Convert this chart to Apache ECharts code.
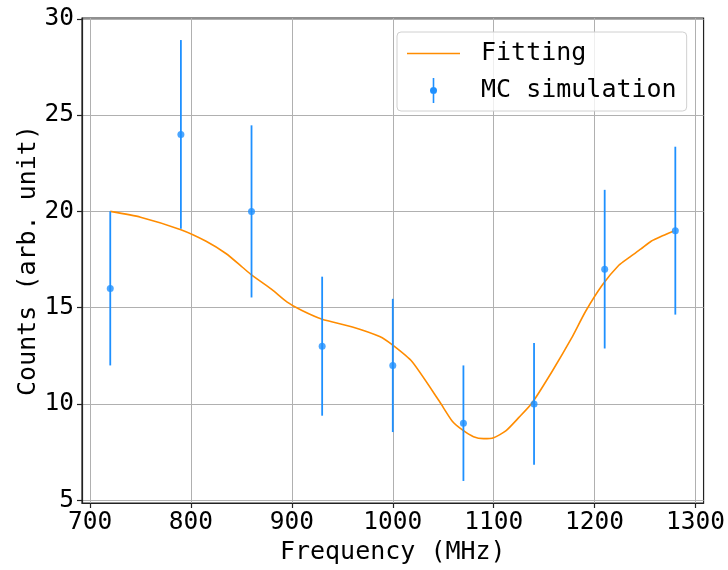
<!DOCTYPE html>
<html>
<head>
<meta charset="utf-8">
<script src="https://cdn.jsdelivr.net/npm/echarts@6/dist/echarts.min.js"></script>
<style>
  html, body { margin: 0; padding: 0; background: #fff; }
  #chart { width: 728px; height: 570px; }
</style>
</head>
<body>
<div id="chart"></div>
<script>
// MC simulation points (frequency, counts, error)
const mcFreq = [720, 790, 860, 930, 1000, 1070, 1140, 1210, 1280];
const mcCounts = [16, 24, 20, 13, 12, 9, 10, 17, 19];
const mcErr = [4.0, 4.9, 4.47, 3.61, 3.46, 3.0, 3.16, 4.12, 4.36];

// fitting curve
const fitFreq = [720, 750, 790, 815, 835, 851, 860, 880, 895, 910, 930, 960, 987, 1000, 1019, 1046, 1059, 1069, 1080, 1090, 1100, 1112, 1125, 1138, 1158, 1177, 1191, 1208, 1224, 1234, 1246, 1256, 1268, 1278];
const fitCounts = [20.0, 19.7, 19.05, 18.45, 17.8, 17.1, 16.7, 15.95, 15.3, 14.85, 14.4, 14.0, 13.5, 13.05, 12.2, 10.15, 9.1, 8.65, 8.3, 8.2, 8.25, 8.6, 9.3, 10.05, 11.7, 13.4, 14.8, 16.2, 17.2, 17.6, 18.05, 18.45, 18.75, 18.97];

const xTicks = [700, 800, 900, 1000, 1100, 1200, 1300];
const yTicks = [5, 10, 15, 20, 25, 30];

const BLUE = '#1e90ff';
const ORANGE = '#ff8c00';
const FONT = 'DejaVu Sans Mono';

const chart = echarts.init(document.getElementById('chart'));

const errData = mcFreq.map((x, i) => [x, mcCounts[i] - mcErr[i], mcCounts[i] + mcErr[i]]);
const pts = mcFreq.map((x, i) => [x, mcCounts[i]]);
const fit = fitFreq.map((x, i) => [x, fitCounts[i]]);

const axisCommon = {
  axisLine: { show: true, onZero: false, lineStyle: { color: '#222', width: 1.2 } },
  axisTick: { show: true, inside: false, length: 5, lineStyle: { color: '#222', width: 1.2 } },
  splitLine: { show: true, lineStyle: { color: '#b0b0b0', width: 1 } },
  nameTextStyle: { fontFamily: FONT, fontSize: 25, color: '#000' }
};

// legend icons: thin line (tiny corner specks keep the box size) and errorbar marker
const lineIcon = 'path://M0,11.7 L53,11.7 L53,13.3 L0,13.3 Z M0,0 L0.01,0 L0.01,0.01 Z M53,25 L52.99,25 L52.99,24.99 Z';
const errIcon = 'path://M-0.8,-12.5 L0.8,-12.5 L0.8,12.5 L-0.8,12.5 Z M0,-3.5 A3.5,3.5 0 1,1 0,3.5 A3.5,3.5 0 1,1 0,-3.5 Z';

const option = {
  animation: false,
  backgroundColor: '#fff',
  grid: { left: 82, right: 23, top: 18, bottom: 65, containLabel: false, show: true, borderColor: '#222', borderWidth: 1.2 },
  xAxis: Object.assign({}, axisCommon, {
    type: 'value',
    min: 692,
    max: 1308,
    name: 'Frequency (MHz)',
    nameLocation: 'middle',
    nameGap: 37,
    axisTick: Object.assign({}, axisCommon.axisTick, { customValues: xTicks }),
    axisLabel: { customValues: xTicks, formatter: v => String(v), fontFamily: FONT, fontSize: 24.5, color: '#000', margin: 7 },
  }),
  yAxis: Object.assign({}, axisCommon, {
    type: 'value',
    min: 4.855,
    max: 30.045,
    name: 'Counts (arb. unit)',
    nameLocation: 'middle',
    nameGap: 41,
    nameMoveOverlap: false,
    axisTick: Object.assign({}, axisCommon.axisTick, { customValues: yTicks }),
    axisLabel: { customValues: yTicks, formatter: v => String(v), fontFamily: FONT, fontSize: 24.5, color: '#000', margin: 8 },
  }),
  legend: {
    orient: 'vertical',
    left: 397,
    top: 32,
    width: 273,
    padding: [9, 10, 8, 10],
    itemWidth: 53,
    itemHeight: 25,
    itemGap: 12,
    backgroundColor: 'rgba(255,255,255,0.8)',
    borderColor: '#d0d0d0',
    borderWidth: 1,
    borderRadius: 4,
    textStyle: { fontFamily: FONT, fontSize: 25, color: '#000', padding: [0, 0, 0, 16] },
    data: [
      { name: 'Fitting', icon: lineIcon, itemStyle: { color: ORANGE } },
      { name: 'MC simulation', icon: errIcon, itemStyle: { color: BLUE } }
    ]
  },
  series: [
    {
      name: 'Fitting',
      type: 'line',
      data: fit,
      smooth: 0.2,
      symbol: 'none',
      lineStyle: { color: ORANGE, width: 1.6 },
      itemStyle: { color: ORANGE },
      z: 3
    },
    {
      name: 'MC simulation',
      type: 'custom',
      data: errData,
      itemStyle: { color: BLUE },
      renderItem: function (params, api) {
        const top = api.coord([api.value(0), api.value(2)]);
        const bot = api.coord([api.value(0), api.value(1)]);
        return {
          type: 'line',
          shape: { x1: top[0], y1: top[1], x2: bot[0], y2: bot[1] },
          style: { stroke: BLUE, lineWidth: 1.8 }
        };
      },
      z: 4
    },
    {
      name: 'MC simulation',
      type: 'scatter',
      data: pts,
      symbol: 'circle',
      symbolSize: 7,
      itemStyle: { color: BLUE },
      z: 5
    }
  ]
};

chart.setOption(option);
</script>
</body>
</html>
